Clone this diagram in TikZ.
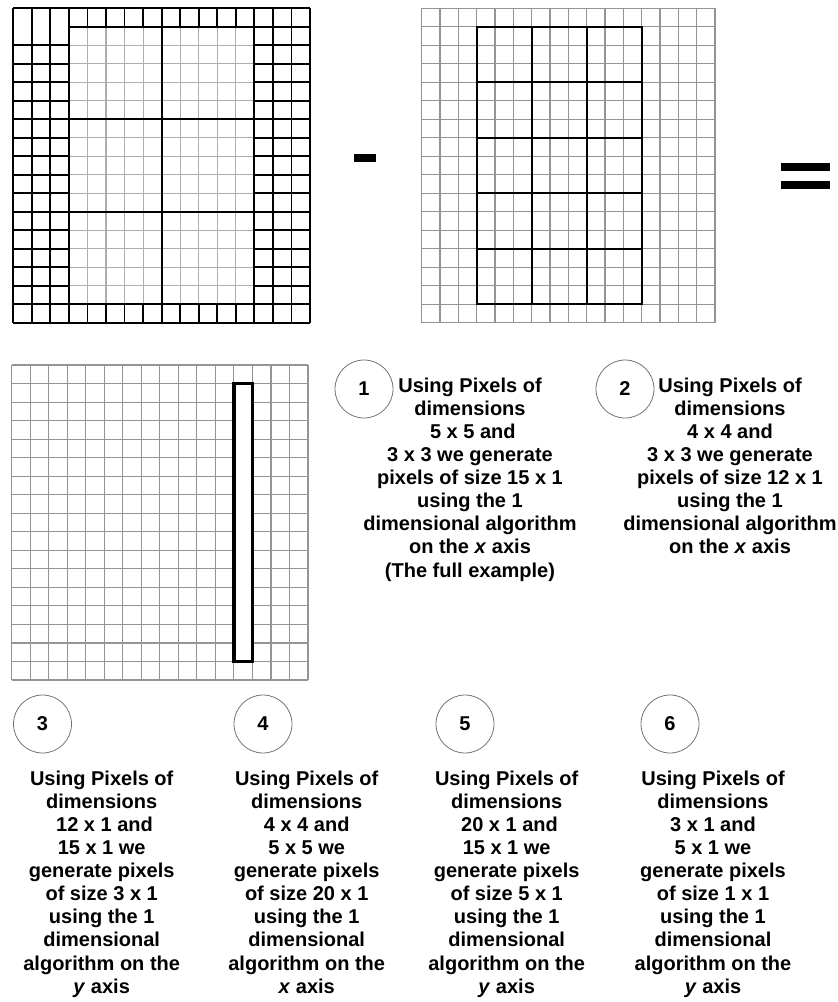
\documentclass[tikz,border=0pt]{standalone}
\usepackage{fontspec}
\setmainfont{Liberation Sans}
\begin{document}
\begin{tikzpicture}[x=1pt,y=-1pt,
  gl/.style={draw=black!42,line width=1.1pt},
  gli/.style={draw=black!32,line width=1.1pt},
  bl/.style={draw=black,line width=1.8pt,line cap=square},
  num/.style={circle,draw=black!55,line width=0.8pt,minimum size=58pt,inner sep=0pt,font=\fontsize{20}{23}\selectfont\bfseries},
  txt/.style={align=center,anchor=north,inner sep=0pt,font=\fontsize{20}{23.1}\selectfont\bfseries}]
\useasboundingbox (0,0) rectangle (838,1002);
% ---------- top-left grid ----------
\begin{scope}[xshift=13.3pt,yshift=-8.3pt,x=18.54pt,y=-18.49pt]
  \foreach \i in {4,5,6,7,9,10,11,12} \draw[gli] (\i,1)--(\i,16);
  \foreach \j in {2,3,4,5,7,8,9,10,12,13,14,15} \draw[gli] (3,\j)--(13,\j);
  \foreach \i in {0,1,2,3,13,14,15,16} \draw[bl] (\i,0)--(\i,17);
  \foreach \i in {4,...,12} {\draw[bl] (\i,0)--(\i,1); \draw[bl] (\i,16)--(\i,17);}
  \draw[bl] (8,1)--(8,16);
  \foreach \j in {2,...,16} {\draw[bl] (0,\j)--(3,\j); \draw[bl] (13,\j)--(16,\j);}
  \draw[bl] (3,1)--(16,1);
  \foreach \j in {6,11,16} \draw[bl] (3,\j)--(13,\j);
  \draw[bl] (0,0)--(16,0) (0,17)--(16,17);
\end{scope}
% ---------- top-right grid ----------
\begin{scope}[xshift=421.7pt,yshift=-8.3pt,x=18.33pt,y=-18.49pt]
  \foreach \i in {0,...,16} \draw[gl] (\i,0)--(\i,17);
  \foreach \j in {0,...,17} \draw[gl] (0,\j)--(16,\j);
  \draw[bl] (3,1) rectangle (12,16);
  \foreach \i in {6,9} \draw[bl] (\i,1)--(\i,16);
  \foreach \j in {4,7,10,13} \draw[bl] (3,\j)--(12,\j);
\end{scope}
% ---------- bottom-left grid ----------
\begin{scope}[xshift=11.7pt,yshift=-365pt,x=18.52pt,y=-18.53pt]
  \foreach \i in {0,...,16} \draw[gl] (\i,0)--(\i,17);
  \foreach \j in {0,...,17} \draw[gl] (0,\j)--(16,\j);
  \draw[draw=black,fill=white,line width=3.6pt] (12,1) rectangle (13,16);
\end{scope}
% ---------- operators ----------
\fill (354,154) rectangle (376,162.3);
\fill (781,162.7) rectangle (830,170.7);
\fill (781,180.7) rectangle (830,188.7);
% ---------- numbered circles ----------
\node[num] (c1) at (364,389) {1};
\node[num] (c2) at (625,389) {2};
\node[num] (c3) at (42.5,724) {3};
\node[num] (c4) at (263,724) {4};
\node[num] (c5) at (465,724) {5};
\node[num] (c6) at (670,724) {6};
% ---------- texts ----------
\node[txt] (t1) at (470,377.5) {Using Pixels of\\dimensions\\\hspace*{0.28em}5 x 5 and\\3 x 3 we generate\\pixels of size 15 x 1\\using the 1\\dimensional algorithm\\on the \textit{x} axis\\(The full example)};
\node[txt] (t2) at (730,377.5) {Using Pixels of\\dimensions\\4 x 4 and\\3 x 3 we generate\\pixels of size 12 x 1\\using the 1\\dimensional algorithm\\on the \textit{x} axis};
\node[txt] (t3) at (101.7,770.5) {Using Pixels of\\dimensions\\\hspace*{0.28em}12 x 1 and\\15 x 1 we\\generate pixels\\of size 3 x 1\\using the 1\\dimensional\\algorithm on the\\\textit{y} axis};
\node[txt] (t4) at (306.7,770.5) {Using Pixels of\\dimensions\\4 x 4 and\\5 x 5 we\\generate pixels\\of size 20 x 1\\using the 1\\dimensional\\algorithm on the\\\textit{x} axis};
\node[txt] (t5) at (506.7,770.5) {Using Pixels of\\dimensions\\\hspace*{0.28em}20 x 1 and\\15 x 1 we\\generate pixels\\of size 5 x 1\\using the 1\\dimensional\\algorithm on the\\\textit{y} axis};
\node[txt] (t6) at (713,770.5) {Using Pixels of\\dimensions\\3 x 1 and\\5 x 1 we\\generate pixels\\of size 1 x 1\\using the 1\\dimensional\\algorithm on the\\\textit{y} axis};
\end{tikzpicture}
\end{document}
